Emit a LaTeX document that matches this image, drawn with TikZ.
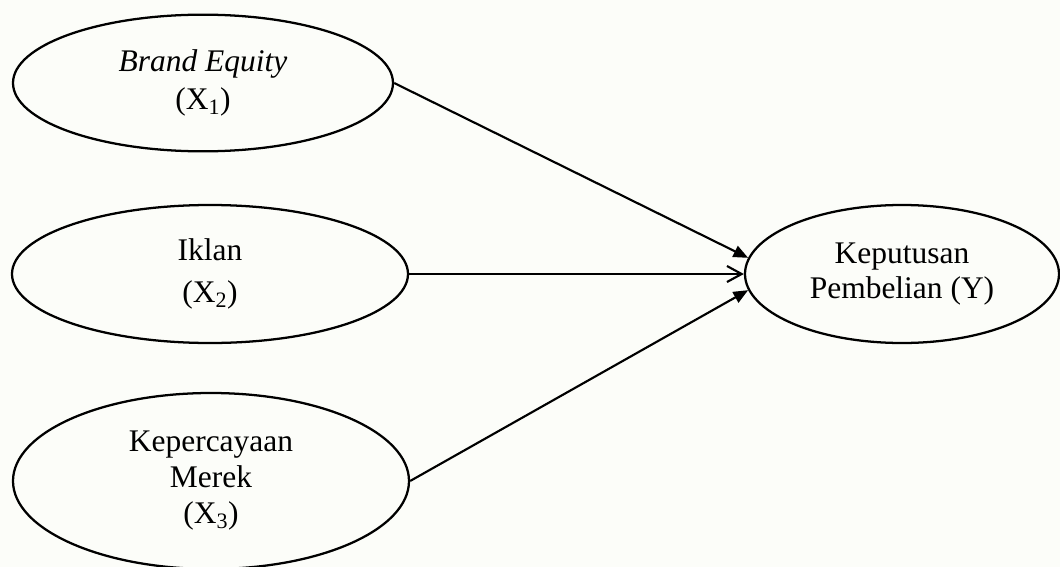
\documentclass[tikz,border=0pt]{standalone}
\usepackage{fontspec}
\setmainfont{Liberation Serif}
\usetikzlibrary{shapes.geometric,arrows.meta}
\definecolor{bgc}{RGB}{252,253,249}
\begin{document}
\begin{tikzpicture}[x=0.75pt,y=-0.75pt,
  var/.style={draw, ellipse, fill=bgc, line width=1.7pt, inner sep=0pt, align=center,
    font=\fontsize{23.6}{27}\selectfont},
  link/.style={line width=1.6pt},
  solidtip/.style={link, -{Triangle[length=11pt,width=9pt]}},
  opentip/.style={link, -{Straight Barb[length=11pt,width=12pt]}}]
\useasboundingbox (0,0) rectangle (1060,567);
\clip (0,0) rectangle (1060,567);
\fill[bgc] (0,0) rectangle (1060,567);
\node[var, minimum width=285pt, minimum height=102.5pt] (X1) at (203,83)
  {\textit{Brand Equity}\\[1.5pt](X\textsubscript{1})};
\node[var, minimum width=297pt, minimum height=103.5pt] (X2) at (210,274)
  {Iklan\\[5pt](X\textsubscript{2})};
\node[var, minimum width=297pt, minimum height=132pt] (X3) at (211,481)
  {Kepercayaan\\Merek\\(X\textsubscript{3})};
\node[var, minimum width=235.5pt, minimum height=103.5pt] (Y) at (902,274)
  {Keputusan\\[-0.75pt]Pembelian (Y)};
\draw[solidtip] (X1.east) -- (Y.174);
\draw[opentip] (X2.east) -- (Y.west);
\draw[solidtip] (X3.east) -- (Y.186);
\end{tikzpicture}
\end{document}
